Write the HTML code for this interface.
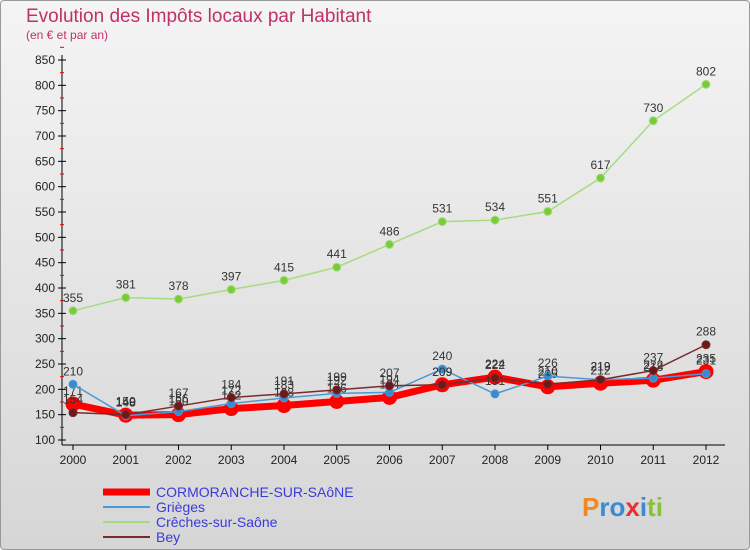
<!DOCTYPE html>
<html><head><meta charset="utf-8"><style>
body{margin:0;width:750px;height:550px;overflow:hidden;font-family:"Liberation Sans",sans-serif}
#wrap{position:relative;width:748px;height:548px;border:1px solid #999;border-radius:4px;background:linear-gradient(#f4f4f4,#d6d6d6)}
</style></head><body>
<div id="wrap">
<svg id="c" width="750" height="550" style="position:absolute;left:-1px;top:-1px"></svg>
</div>
<script>
const years=[2000,2001,2002,2003,2004,2005,2006,2007,2008,2009,2010,2011,2012];
const cormoranche=[171,149,150,162,168,176,184,209,224,205,212,218,235];
const grieges=[210,148,156,172,183,192,194,240,191,226,219,222,231];
const creches=[355,381,378,397,415,441,486,531,534,551,617,730,802];
const bey=[154,150,167,184,191,199,207,209,222,210,219,237,288];
const yTicks=[100,150,200,250,300,350,400,450,500,550,600,650,700,750,800,850];
const NS='http://www.w3.org/2000/svg';
const svg=document.getElementById('c');
const X=i=>73+i*52.75, Y=v=>440-(v-100)*380/750;
function el(t,a,p){const e=document.createElementNS(NS,t);for(const k in a)e.setAttribute(k,a[k]);(p||svg).appendChild(e);return e;}
let t=el('text',{x:26,y:22,fill:'#c0306a','font-size':19});t.textContent='Evolution des Impôts locaux par Habitant';

t=el('text',{x:26,y:39,fill:'#c0306a','font-size':12});t.textContent='(en € et par an)';

let ax=el('line',{x1:62,y1:55,x2:62,y2:445,stroke:'#000'});

ax=el('line',{x1:62,y1:445,x2:725,y2:445,stroke:'#000'});

yTicks.forEach(v=>{el('line',{x1:58,y1:Y(v),x2:66,y2:Y(v),stroke:'#000'});
 el('line',{x1:60,y1:Y(v+25),x2:64,y2:Y(v+25),stroke:'#e00'});
 const l=el('text',{x:55,y:Y(v)+4,'text-anchor':'end','font-size':12,fill:'#222'});l.textContent=v;
 });
years.forEach((y,i)=>{el('line',{x1:X(i),y1:445,x2:X(i),y2:450,stroke:'#000'});
 const l=el('text',{x:X(i),y:464,'text-anchor':'middle','font-size':12,fill:'#222'});l.textContent=y;
 });
function series(d,col,w,r,name,dot){
 const g=el('g',{});
 el('polyline',{points:d.map((v,i)=>X(i)+','+Y(v)).join(' '),fill:'none',stroke:col,'stroke-width':w},g);
 d.forEach((v,i)=>{const c=el('circle',{cx:X(i),cy:Y(v),r:r,fill:dot,stroke:col,'stroke-width':1},g);
  
  const l=el('text',{x:X(i),y:Y(v)-9,'text-anchor':'middle','font-size':12,fill:'#333'},g);l.textContent=v;});
}
series(cormoranche,'#ff0000',7,7,'series-cormoranche','#ff0000');
series(grieges,'#4a9ad6',1.5,4,'series-grieges','#3a8ad0');
series(creches,'#a6dc7e',1.5,4,'series-creches','#7acb3a');
series(bey,'#7a2a2a',1.5,4,'series-bey','#6a1a1a');
const leg=[['CORMORANCHE-SUR-SAôNE','#ff0000',7],['Grièges','#4a9ad6',2],['Crêches-sur-Saône','#a6dc7e',2],['Bey','#7a2a2a',2]];
leg.forEach((l,i)=>{const y=492+i*15;const g=el('g',{});
 el('line',{x1:103,y1:y,x2:150,y2:y,stroke:l[1],'stroke-width':l[2]},g);
 const tx=el('text',{x:156,y:y+5,'font-size':14,fill:'#3a3adc'},g);tx.textContent=l[0];});
const lg=el('text',{x:582,y:516,'font-size':26,'font-weight':'bold',fill:'#3a8ad0'});

lg.innerHTML='<tspan fill="#f08a20">P</tspan><tspan fill="#3a8ad0">ro</tspan><tspan fill="#e83030">x</tspan><tspan fill="#3a8ad0">i</tspan><tspan fill="#8ac03a">ti</tspan>';
</script>
</body></html>
